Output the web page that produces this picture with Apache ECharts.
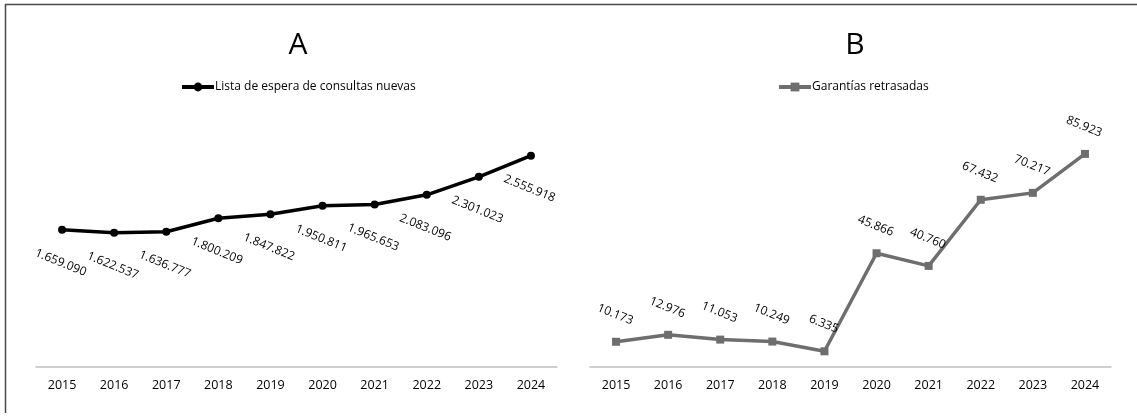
<!DOCTYPE html>
<html>
<head>
<meta charset="utf-8">
<script src="https://cdn.jsdelivr.net/npm/echarts@6/dist/echarts.min.js"></script>
<style>
html,body{margin:0;padding:0;background:#fff;}
#chart{width:1137px;height:417px;}
</style>
</head>
<body>
<div id="chart"></div>
<script>
const years = ['2015','2016','2017','2018','2019','2020','2021','2022','2023','2024'];
const listaEspera = [1659090,1622537,1636777,1800209,1847822,1950811,1965653,2083096,2301023,2555918];
const garantias = [10173,12976,11053,10249,6335,45866,40760,67432,70217,85923];
const titleA = 'A';
const titleB = 'B';
const nameA = 'Lista de espera de consultas nuevas';
const nameB = 'Garantías retrasadas';

const FONT = '"Open Sans", "Noto Sans", sans-serif';
function fmt(v){ return String(v).replace(/\B(?=(\d{3})+(?!\d))/g, '.'); }

const chart = echarts.init(document.getElementById('chart'), null, {renderer:'canvas'});
const axisCommon = {
  type:'category', boundaryGap:true,
  axisLine:{show:true, lineStyle:{color:'#c0c0c0', width:1.5}},
  axisTick:{show:false},
  axisLabel:{color:'#000', fontSize:12.5, fontFamily:FONT, margin:12}
};
const yCommon = {type:'value', min:0, show:false, splitLine:{show:false}};
const rot = -22;
const legendText = {fontSize:12, color:'#000', fontFamily:FONT, padding:[0,0,0,-4]};
chart.setOption({
  animation:false,
  backgroundColor:'#ffffff',
  title:[
    {text:titleA, left:298, top:30, textAlign:'center', padding:0,
     textStyle:{fontSize:30, fontWeight:'normal', color:'#000', fontFamily:FONT}},
    {text:titleB, left:855, top:30, textAlign:'center', padding:0,
     textStyle:{fontSize:30, fontWeight:'normal', color:'#000', fontFamily:FONT}}
  ],
  legend:[
    {data:[nameA], left:180, top:81, padding:0, itemWidth:32, itemHeight:11, itemGap:0,
     lineStyle:{width:4}, textStyle:legendText},
    {data:[nameB], left:777, top:81, padding:0, itemWidth:32, itemHeight:11, itemGap:0,
     lineStyle:{width:4}, textStyle:legendText}
  ],
  grid:[
    {left:36, width:521, top:119, height:248},
    {left:590, width:521, top:119, height:248}
  ],
  xAxis:[
    Object.assign({gridIndex:0, data:years}, axisCommon),
    Object.assign({gridIndex:1, data:years}, axisCommon)
  ],
  yAxis:[
    Object.assign({gridIndex:0, max:3000000}, yCommon),
    Object.assign({gridIndex:1, max:100000}, yCommon)
  ],
  graphic:[
    {type:'line', shape:{x1:5, y1:4.5, x2:1137, y2:4.5}, style:{stroke:'#4a4a4a', lineWidth:1.5}},
    {type:'line', shape:{x1:5.5, y1:4, x2:5.5, y2:413}, style:{stroke:'#4a4a4a', lineWidth:1.5}}
  ],
  series:[
    {name:nameA, type:'line', xAxisIndex:0, yAxisIndex:0, data:listaEspera,
     symbol:'circle', symbolSize:8,
     itemStyle:{color:'#000'}, lineStyle:{color:'#000', width:3.5},
     label:{show:true, position:'inside', rotate:rot, offset:[11,31],
       align:'center', verticalAlign:'middle',
       color:'#000', fontSize:12, fontFamily:FONT, formatter:p=>fmt(p.value)}},
    {name:nameB, type:'line', xAxisIndex:1, yAxisIndex:1, data:garantias,
     symbol:'rect', symbolSize:8,
     itemStyle:{color:'#6e6e6e'}, lineStyle:{color:'#6e6e6e', width:3.5},
     label:{show:true, position:'inside', rotate:rot, offset:[-11,-25],
       align:'center', verticalAlign:'middle',
       color:'#000', fontSize:12, fontFamily:FONT, formatter:p=>fmt(p.value)}}
  ]
});
</script>
</body>
</html>
